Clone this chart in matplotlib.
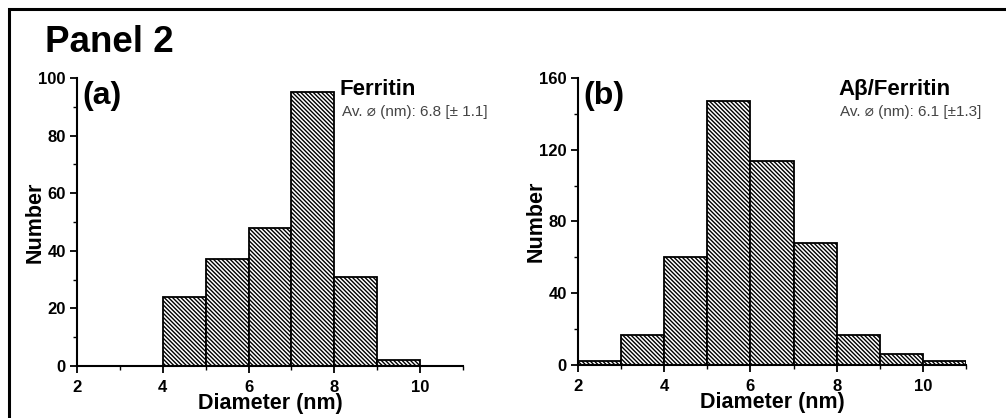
import numpy as np
import matplotlib
matplotlib.use('Agg')
import matplotlib.pyplot as plt
import matplotlib.patches as mpatches
from matplotlib.ticker import MultipleLocator

plt.rcParams['font.family'] = ['Liberation Sans', 'DejaVu Sans']
plt.rcParams['hatch.linewidth'] = 1.0

# bin left edges (nm) and counts
bins_a = [4, 5, 6, 7, 8, 9]
counts_a = [24, 37, 48, 95, 31, 2]
bins_b = [2, 3, 4, 5, 6, 7, 8, 9, 10]
counts_b = [2, 17, 60, 147, 114, 68, 17, 6, 2]

title_a = 'Ferritin'
title_b = 'A\u03b2/Ferritin'
stats_a = 'Av. \u2300 (nm): 6.8 [\u00b1 1.1]'
stats_b = 'Av. \u2300 (nm): 6.1 [\u00b11.3]'

fig = plt.figure(figsize=(10.06, 4.18), dpi=100)

# black frame round the whole panel
frame = mpatches.Rectangle((0.009, -0.2), 1.2, 0.2 + 0.978, transform=fig.transFigure,
                           fill=False, edgecolor='black', linewidth=2.2)
fig.patches.append(frame)

fig.text(0.045, 0.876, 'Panel 2', fontsize=26.5, fontweight='bold', va='baseline')

ax1 = fig.add_axes([0.0765, 0.1244, 0.3837, 0.689])
ax2 = fig.add_axes([0.5746, 0.1268, 0.3857, 0.6866])


def draw(ax, bins, counts, ymax, ymaj, letter, name, stats, xs):
    ax.bar(bins, counts, width=1, align='edge', color='white', edgecolor='black',
           linewidth=1.3, hatch='\\' * 8)
    ax.set_xlim(2, 11)
    ax.set_ylim(0, ymax)
    ax.xaxis.set_major_locator(MultipleLocator(2))
    ax.xaxis.set_minor_locator(MultipleLocator(1))
    ax.yaxis.set_major_locator(MultipleLocator(ymaj))
    ax.yaxis.set_minor_locator(MultipleLocator(ymaj / 2))
    ax.set_xticks([2, 4, 6, 8, 10])
    for s in ['top', 'right']:
        ax.spines[s].set_visible(False)
    for s in ['left', 'bottom']:
        ax.spines[s].set_linewidth(1.5)
    ax.tick_params(which='major', direction='out', length=5, width=1.3, labelsize=12)
    ax.tick_params(axis='x', which='major', pad=5)
    ax.tick_params(axis='y', which='major', pad=3)
    ax.tick_params(which='minor', direction='out', length=3, width=1.0)
    for lab in ax.get_xticklabels() + ax.get_yticklabels():
        lab.set_fontweight('bold')
    ax.set_xlabel('Diameter (nm)', fontsize=15.5, fontweight='bold')
    ax.set_ylabel('Number', fontsize=15.5, fontweight='bold')
    ax.xaxis.set_label_coords(0.5, -0.095)
    ax.yaxis.set_label_coords(-0.082, 0.5)
    ax.text(0.015, 0.99, letter, transform=ax.transAxes, fontsize=23,
            fontweight='bold', va='top', ha='left')
    ax.text(xs, 0.995, name, transform=ax.transAxes, fontsize=16,
            fontweight='bold', va='top', ha='left')
    ax.text(xs + 0.005, 0.905, stats, transform=ax.transAxes, fontsize=11,
            color='#444444', va='top', ha='left', clip_on=False)


draw(ax1, bins_a, counts_a, 100, 20, '(a)', title_a, stats_a, 0.681)
draw(ax2, bins_b, counts_b, 160, 40, '(b)', title_b, stats_b, 0.67)

fig.savefig('out.png', dpi=100)
